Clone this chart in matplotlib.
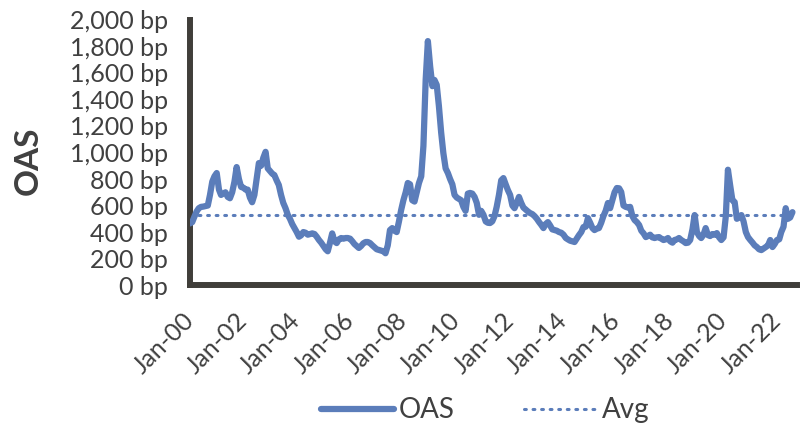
import numpy as np
import pandas as pd
import matplotlib
matplotlib.use("Agg")
import matplotlib.pyplot as plt
import matplotlib.dates as mdates
from matplotlib.ticker import FuncFormatter

plt.rcParams['font.family'] = ['Lato', 'DejaVu Sans']

# month-end high yield option-adjusted spread, bp (Jan 2000 .. Aug 2022)
oas_2000 = [465, 475, 515, 555, 580, 590, 592, 596, 600, 680, 780, 820]
oas_2001 = [845, 720, 680, 690, 700, 665, 655, 700, 780, 890, 800, 740]
oas_2002 = [735, 720, 720, 660, 625, 680, 800, 920, 900, 960, 1005, 880]
oas_2003 = [860, 840, 830, 790, 755, 680, 620, 580, 530, 500, 460, 430]
oas_2004 = [400, 365, 375, 400, 395, 380, 385, 390, 385, 365, 340, 320]
oas_2005 = [295, 270, 255, 320, 390, 330, 317, 345, 355, 350, 355, 355]
oas_2006 = [350, 330, 310, 295, 280, 295, 315, 325, 325, 317, 300, 285]
oas_2007 = [270, 265, 260, 255, 240, 300, 415, 430, 410, 400, 480, 566]
oas_2008 = [640, 700, 770, 760, 640, 630, 700, 770, 820, 1050, 1550, 1840]
oas_2009 = [1650, 1500, 1547, 1510, 1350, 1150, 995, 880, 845, 800, 760, 680]
oas_2010 = [660, 650, 640, 590, 560, 690, 695, 690, 665, 620, 530, 560]
oas_2011 = [530, 480, 470, 468, 480, 520, 590, 680, 790, 807, 760, 717]
oas_2012 = [680, 600, 580, 620, 665, 620, 585, 570, 555, 543, 535, 520]
oas_2013 = [500, 475, 455, 430, 460, 475, 450, 420, 415, 410, 400, 395]
oas_2014 = [380, 355, 345, 335, 330, 325, 350, 377, 400, 438, 440, 505]
oas_2015 = [470, 430, 415, 425, 430, 470, 520, 560, 619, 580, 640, 700]
oas_2016 = [732, 730, 702, 600, 590, 585, 590, 520, 490, 475, 453, 410]
oas_2017 = [390, 362, 370, 380, 360, 355, 360, 362, 350, 340, 345, 355]
oas_2018 = [330, 320, 340, 345, 355, 340, 330, 317, 320, 340, 420, 528]
oas_2019 = [400, 370, 355, 380, 430, 377, 370, 385, 380, 392, 360, 340]
oas_2020 = [360, 520, 870, 750, 640, 626, 500, 510, 528, 480, 400, 362]
oas_2021 = [340, 320, 300, 287, 270, 264, 275, 287, 300, 340, 287, 310]
oas_2022 = [340, 345, 400, 440, 580, 500, 510, 550]

oas = (oas_2000 + oas_2001 + oas_2002 + oas_2003 + oas_2004 + oas_2005
       + oas_2006 + oas_2007 + oas_2008 + oas_2009 + oas_2010 + oas_2011
       + oas_2012 + oas_2013 + oas_2014 + oas_2015 + oas_2016 + oas_2017
       + oas_2018 + oas_2019 + oas_2020 + oas_2021 + oas_2022)
avg_oas = 530

dates = pd.date_range("2000-01-01", periods=len(oas), freq="MS")
x_end = pd.Timestamp("2022-10-01")

blue = "#5b7dba"
dark = "#403e3a"
text_col = "#404040"

fig = plt.figure(figsize=(8.06, 4.23), dpi=100)
ax = fig.add_axes([0.2357, 0.326, 0.753, 0.627])

ax.plot(dates, oas, color=blue, lw=4.5, solid_joinstyle="round",
        solid_capstyle="round", label="OAS", zorder=3)
ax.plot([dates[0], x_end], [avg_oas, avg_oas], color=blue,
        lw=2.2, linestyle=(0, (0.6, 2.2)), dash_capstyle="round",
        label="Avg", zorder=2)

ax.set_xlim(pd.Timestamp("2000-01-01"), x_end)
ax.set_ylim(0, 2000)
ax.set_yticks(np.arange(0, 2001, 200))
ax.yaxis.set_major_formatter(FuncFormatter(lambda v, p: f"{v:,.0f} bp"))
ax.xaxis.set_major_locator(mdates.YearLocator(2))
ax.xaxis.set_major_formatter(mdates.DateFormatter("%b-%y"))

for side in ["top", "right"]:
    ax.spines[side].set_visible(False)
for side in ["left", "bottom"]:
    ax.spines[side].set_color(dark)
    ax.spines[side].set_linewidth(4.3)

ax.tick_params(axis="both", length=0, labelsize=18, colors=text_col)
ax.tick_params(axis="y", pad=16)
ax.tick_params(axis="x", pad=23)
plt.setp(ax.get_xticklabels(), rotation=45, ha="right", va="center",
         rotation_mode="anchor")

ax.set_ylabel("OAS", fontsize=24, fontweight="bold", color=text_col)
ax.yaxis.set_label_coords(-0.243, 0.47)

ax.legend(loc="center", bbox_to_anchor=(0.487, -0.472), ncol=2, frameon=False,
          fontsize=20, handlelength=2.6, columnspacing=2.5, handletextpad=0.2,
          labelcolor=text_col)

fig.savefig("out.png", dpi=100)
